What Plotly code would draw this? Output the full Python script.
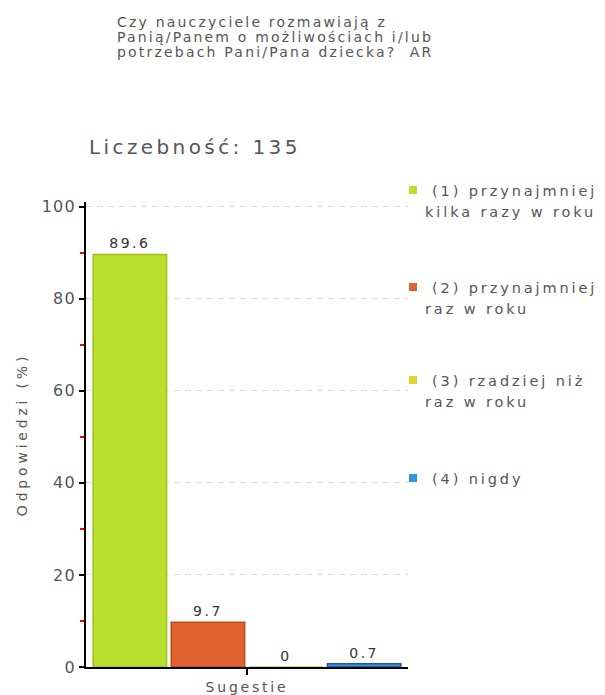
import plotly.graph_objects as go

category = ["Sugestie"]
series_line1 = ["(1) przynajmniej", "(2) przynajmniej", "(3) rzadziej niż", "(4) nigdy"]
series_line2 = ["kilka razy w roku", "raz w roku", "raz w roku", ""]
values = [89.6, 9.7, 0, 0.7]
value_labels = ["89.6", "9.7", "0", "0.7"]
fill_colors = ["#BADF2F", "#E0622F", "#E2D12E", "#2E95DE"]
line_colors = ["#9BBF1A", "#C2481A", "#D4C41E", "#1A58A8"]
y_ticks = [0, 20, 40, 60, 80, 100]
title_lines = ["Czy nauczyciele rozmawiają z",
               "Panią/Panem o możliwościach i/lub",
               "potrzebach Pani/Pana dziecka?  AR"]
count_text = "Liczebność: 135"
x_title = "Sugestie"
y_title = "Odpowiedzi (%)"

FONT = "DejaVu Sans"
GRAY = "#555555"

# figure geometry (browser adds an 8px body margin)
W, H = 597, 687
L, R, T, B = 78, 197, 194, 28
PW, PH = W - L - R, H - T - B
OFF = 8


def px(xr):  # reference x pixel -> paper
    return (xr - OFF - L) / PW


def py(yr):  # reference y pixel -> paper
    return (H - B - (yr - OFF)) / PH


def sp(text, ls):
    return f'<span style="letter-spacing:{ls}px">{text}</span>'


fig = go.Figure()
for i in range(len(values)):
    fig.add_trace(go.Bar(
        x=category, y=[values[i]], name=series_line1[i],
        text=[sp(value_labels[i], 2.5)], textposition="outside", cliponaxis=False,
        textfont=dict(family=FONT, size=14, color="#333333"),
        marker=dict(color=fill_colors[i], line=dict(color=line_colors[i], width=1.5)),
        showlegend=False,
    ))

annotations = []
for k, line in enumerate(title_lines):
    annotations.append(dict(
        text=sp(line, 2.2), xref="paper", yref="paper", x=px(115), y=py(22 + 15 * k),
        xanchor="left", yanchor="middle", showarrow=False,
        font=dict(family=FONT, size=14, color=GRAY)))
annotations.append(dict(
    text=sp(count_text, 3.4), xref="paper", yref="paper", x=px(87), y=py(147),
    xanchor="left", yanchor="middle", showarrow=False,
    font=dict(family=FONT, size=20, color=GRAY)))

legend_y1 = [190, 287, 380, 478]
shapes = []
for i in range(len(values)):
    yc = legend_y1[i]
    shapes.append(dict(type="rect", xref="paper", yref="paper",
                       x0=px(409), x1=px(417), y0=py(yc + 4), y1=py(yc - 4),
                       fillcolor=fill_colors[i], line=dict(width=0)))
    annotations.append(dict(
        text=sp(series_line1[i], 2.9), xref="paper", yref="paper", x=px(430), y=py(yc + 1),
        xanchor="left", yanchor="middle", showarrow=False,
        font=dict(family=FONT, size=14.5, color=GRAY)))
    if series_line2[i]:
        annotations.append(dict(
            text=sp(series_line2[i], 2.9), xref="paper", yref="paper", x=px(423), y=py(yc + 22),
            xanchor="left", yanchor="middle", showarrow=False,
            font=dict(family=FONT, size=14.5, color=GRAY)))

fig.update_layout(
    width=W, height=H,
    paper_bgcolor="white", plot_bgcolor="white",
    margin=dict(l=L, r=R, t=T, b=B),
    barmode="group", bargap=0.03, bargroupgap=0.06,
    font=dict(family=FONT, size=13, color=GRAY),
    showlegend=False,
    annotations=annotations,
    shapes=shapes,
)
fig.update_yaxes(
    range=[0, 101], tickvals=y_ticks, ticktext=[sp(str(v), 1.2) for v in y_ticks],
    showline=True, linecolor="#000000", linewidth=2,
    ticks="outside", ticklen=5, tickcolor="#000000", tickwidth=2,
    tickfont=dict(family=FONT, size=16, color=GRAY),
    showgrid=True, gridcolor="#d9d9d9", griddash="6px,5px", gridwidth=1,
    zeroline=False, automargin=False,
    minor=dict(tickvals=[10, 30, 50, 70, 90], ticks="outside", ticklen=4,
               tickcolor="#ff0000", tickwidth=1.5, showgrid=False),
    title=dict(text=sp(y_title, 3.8), font=dict(family=FONT, size=14, color=GRAY), standoff=11),
)
fig.update_xaxes(
    showline=True, linecolor="#000000", linewidth=2,
    ticks="outside", ticklen=6, tickcolor="#000000", tickwidth=2,
    showticklabels=False, automargin=False,
    title=dict(text=sp(x_title, 2.8), font=dict(family=FONT, size=14, color=GRAY), standoff=9),
)
fig.write_html("out.html")
